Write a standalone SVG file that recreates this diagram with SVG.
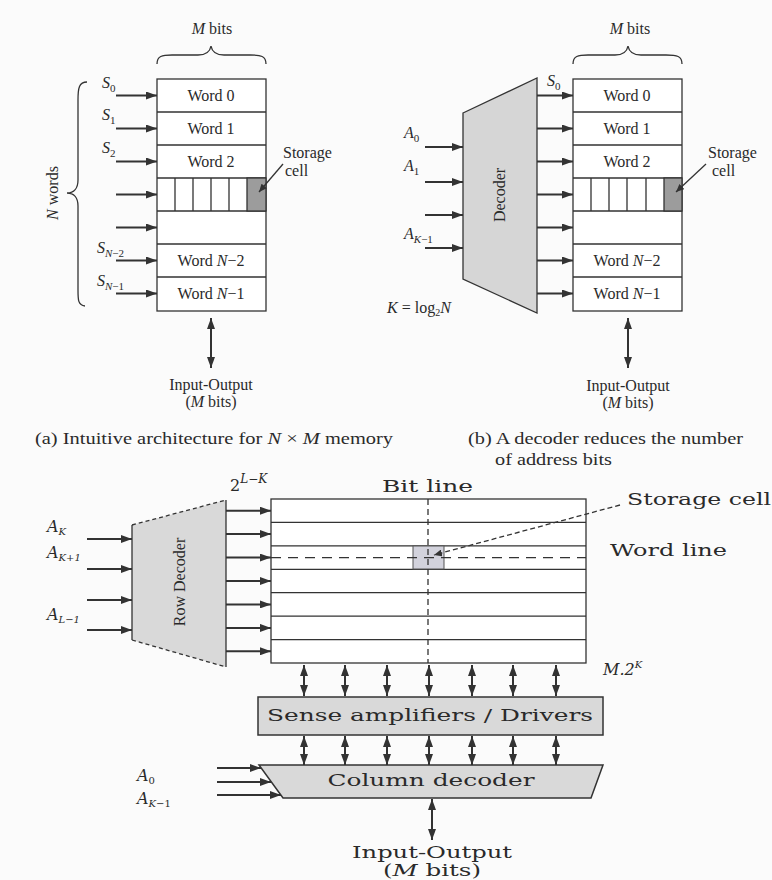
<svg xmlns="http://www.w3.org/2000/svg" width="772" height="880" viewBox="0 0 772 880">
<defs>
<marker id="ah" markerUnits="userSpaceOnUse" markerWidth="11" markerHeight="8" refX="11" refY="4" orient="auto-start-reverse">
<path d="M0,0 L11,4 L0,8 z" fill="#333"/>
</marker>
<marker id="ahs" markerUnits="userSpaceOnUse" markerWidth="8" markerHeight="7" refX="8" refY="3.5" orient="auto-start-reverse">
<path d="M0,0 L8,3.5 L0,7 z" fill="#333"/>
</marker>
<style>
.ln{stroke:#333;stroke-width:1.3;fill:none}
.box{stroke:#333;stroke-width:1.3;fill:#fff}
.arr{stroke:#333;stroke-width:2;fill:none;marker-end:url(#ah)}
.darr{stroke:#333;stroke-width:2;fill:none;marker-start:url(#ah);marker-end:url(#ah)}
.t{font-family:"Liberation Serif",serif;font-size:16px;fill:#2a2a2a}
.tc{font-family:"Liberation Serif",serif;font-size:16px;fill:#2a2a2a;text-anchor:middle}
.w{font-family:"DejaVu Serif",serif;font-size:16px;fill:#2a2a2a}
.wc{font-family:"DejaVu Serif",serif;font-size:16px;fill:#2a2a2a;text-anchor:middle}
.i{font-style:italic}
.dec{fill:#d6d6d6;stroke:#333;stroke-width:1.3}
</style>
</defs>
<rect width="772" height="880" fill="#fbfbfb"/>

<!-- ===== (a) ===== -->
<g id="a-mbits">
<text class="tc" x="212" y="34" font-size="14"><tspan class="i">M</tspan> bits</text>
<path class="ln" d="M157,64 C157,56 162,55 172,55 L198,55 C206,55 210,52 211,46 C212,52 216,55 224,55 L250,55 C261,55 266,56 266,64"/>
</g>
<g id="a-nwords">
<path class="ln" d="M87,82 C79,82 78,88 78,100 L78,180 C78,188 74,193 67,193 C74,193 78,198 78,206 L78,290 C78,300 78,305 85,306"/>
<text class="tc" transform="translate(58,193) rotate(-90)"><tspan class="i">N</tspan> words</text>
</g>
<g id="a-memory">
<rect class="box" x="157" y="79" width="109" height="232"/>
<path class="ln" d="M157,112H266M157,145H266M157,178H266M157,211H266M157,244H266M157,277H266"/>
<rect x="247" y="178" width="19" height="33" fill="#9c9c9c" stroke="#333" stroke-width="1.3"/>
<path class="ln" d="M175,178V211M193,178V211M211,178V211M229,178V211"/>
<text class="tc" x="211" y="101">Word 0</text>
<text class="tc" x="211" y="134">Word 1</text>
<text class="tc" x="211" y="167">Word 2</text>
<text class="tc" x="211" y="266">Word <tspan class="i">N</tspan>−2</text>
<text class="tc" x="211" y="299">Word <tspan class="i">N</tspan>−1</text>
</g>
<g id="a-selects">
<text class="t" x="102" y="88" font-size="15"><tspan class="i">S</tspan><tspan font-size="11" dy="4">0</tspan></text>
<text class="t" x="102" y="120" font-size="15"><tspan class="i">S</tspan><tspan font-size="11" dy="4">1</tspan></text>
<text class="t" x="102" y="153" font-size="15"><tspan class="i">S</tspan><tspan font-size="11" dy="4">2</tspan></text>
<text class="t" x="97" y="253" font-size="15"><tspan class="i">S</tspan><tspan font-size="11" dy="4"><tspan class="i">N</tspan>−2</tspan></text>
<text class="t" x="97" y="286" font-size="15"><tspan class="i">S</tspan><tspan font-size="11" dy="4"><tspan class="i">N</tspan>−1</tspan></text>
</g>
<g id="a-storage">
<text class="t" x="283" y="158">Storage</text>
<text class="t" x="285" y="176">cell</text>
</g>
<g id="a-io">
<text class="tc" x="211" y="390" font-size="15">Input-Output</text>
<text class="tc" x="211" y="407" font-size="15">(<tspan class="i">M</tspan> bits)</text>
</g>
<g id="a-caption">
<text class="t" x="35" y="444" textLength="358" lengthAdjust="spacingAndGlyphs">(a) Intuitive architecture for <tspan class="i">N</tspan> × <tspan class="i">M</tspan> memory</text>
</g>

<!-- ===== (b) ===== -->
<g id="b-mbits">
<text class="tc" x="630" y="34" font-size="14"><tspan class="i">M</tspan> bits</text>
<path class="ln" d="M573,64 C573,56 578,55 588,55 L615,55 C623,55 627,52 628,46 C629,52 633,55 641,55 L666,55 C677,55 682,56 682,64"/>
</g>
<g id="b-decoder">
<polygon class="dec" points="463,113 537,78 537,313 463,279"/>
<text class="tc" transform="translate(505,195) rotate(-90)">Decoder</text>
</g>
<g id="b-memory">
<rect class="box" x="573" y="79" width="109" height="232"/>
<path class="ln" d="M573,112H682M573,145H682M573,178H682M573,211H682M573,244H682M573,277H682"/>
<rect x="664" y="178" width="18" height="33" fill="#9c9c9c" stroke="#333" stroke-width="1.3"/>
<path class="ln" d="M591,178V211M609,178V211M627,178V211M646,178V211"/>
<text class="tc" x="627" y="101">Word 0</text>
<text class="tc" x="627" y="134">Word 1</text>
<text class="tc" x="627" y="167">Word 2</text>
<text class="tc" x="627" y="266">Word <tspan class="i">N</tspan>−2</text>
<text class="tc" x="627" y="299">Word <tspan class="i">N</tspan>−1</text>
</g>
<g id="b-labels">
<text class="t" x="547" y="86" font-size="15"><tspan class="i">S</tspan><tspan font-size="11" dy="4">0</tspan></text>
<text class="t" x="404" y="138" font-size="15"><tspan class="i">A</tspan><tspan font-size="11" dy="4">0</tspan></text>
<text class="t" x="404" y="171" font-size="15"><tspan class="i">A</tspan><tspan font-size="11" dy="4">1</tspan></text>
<text class="t" x="404" y="239" font-size="15"><tspan class="i">A</tspan><tspan font-size="11" dy="4"><tspan class="i">K</tspan>−1</tspan></text>
<text class="t" x="387" y="313" font-size="15"><tspan class="i">K</tspan> = log<tspan font-size="10" dy="3">2</tspan><tspan class="i" dy="-3">N</tspan></text>
</g>
<g id="b-storage">
<text class="t" x="708" y="158">Storage</text>
<text class="t" x="712" y="176">cell</text>
</g>
<g id="b-io">
<text class="tc" x="628" y="391" font-size="15">Input-Output</text>
<text class="tc" x="628" y="408" font-size="15">(<tspan class="i">M</tspan> bits)</text>
</g>
<g id="b-caption">
<text class="t" x="468" y="444" textLength="275" lengthAdjust="spacingAndGlyphs">(b) A decoder reduces the number</text>
<text class="t" x="495" y="465" textLength="117" lengthAdjust="spacingAndGlyphs">of address bits</text>
</g>

<!-- ===== (c) ===== -->
<g id="c-rowdecoder">
<polygon points="132,525 226,500 226,667 132,640" fill="#d9d9d9" stroke="none"/>
<path class="ln" d="M132,525V640M226,500V667"/>
<path class="ln" d="M132,525L226,500M132,640L226,667" stroke-dasharray="4,3"/>
<text class="tc" transform="translate(185,582) rotate(-90)" font-size="17">Row Decoder</text>
</g>
<g id="c-2lk">
<text class="w" x="230" y="491" font-size="17">2<tspan class="i" font-size="12" dy="-8">L</tspan><tspan font-size="12">−</tspan><tspan class="i" font-size="12">K</tspan></text>
</g>
<g id="c-array">
<rect class="box" x="271" y="499" width="315" height="164" stroke-width="1.6"/>
<path class="ln" stroke-width="1.6" d="M271,522.4H586M271,545.9H586M271,569.3H586M271,592.7H586M271,616.1H586M271,639.6H586"/>
<rect x="413" y="546" width="31" height="23" fill="#d2d2dc" stroke="#555" stroke-width="1"/>
<path class="ln" stroke-width="1.6" d="M428,499V663" stroke-dasharray="6,4"/>
<path class="ln" stroke="#666" d="M271,557.6H586" stroke-dasharray="10,7"/>
</g>
<g id="c-labels">
<text class="w" x="382" y="492" textLength="91" lengthAdjust="spacingAndGlyphs">Bit line</text>
<text class="w" x="627" y="505" font-size="17" textLength="144" lengthAdjust="spacingAndGlyphs">Storage cell</text>
<text class="w" x="610" y="556" font-size="17" textLength="117" lengthAdjust="spacingAndGlyphs">Word line</text>
<text class="w i" x="603" y="675" font-size="15">M.2<tspan font-size="10" dy="-7">K</tspan></text>
<text class="w i" x="47" y="532" font-size="15">A<tspan font-size="10" dy="3">K</tspan></text>
<text class="w i" x="47" y="558" font-size="15">A<tspan font-size="10" dy="3">K+1</tspan></text>
<text class="w i" x="47" y="620" font-size="15">A<tspan font-size="10" dy="3">L−1</tspan></text>
</g>
<g id="c-sense">
<rect x="258" y="697" width="345" height="38" fill="#d9d9d9" stroke="#333" stroke-width="1.5"/>
<text class="wc" x="430" y="721" textLength="326" lengthAdjust="spacingAndGlyphs">Sense amplifiers / Drivers</text>
</g>
<g id="c-coldecoder">
<polygon points="259,765 603,765 591,798 283,798" fill="#d9d9d9" stroke="#333" stroke-width="1.5"/>
<text class="wc" x="431" y="786" textLength="207" lengthAdjust="spacingAndGlyphs">Column decoder</text>
<text class="w i" x="137" y="781" font-size="15">A<tspan font-size="10" dy="3" font-style="normal">0</tspan></text>
<text class="w i" x="137" y="804" font-size="15">A<tspan font-size="10" dy="3">K</tspan><tspan font-size="10" font-style="normal">−1</tspan></text>
</g>
<g id="c-io">
<text class="wc" x="432" y="858" font-size="17" textLength="160" lengthAdjust="spacingAndGlyphs">Input-Output</text>
<text class="wc" x="432" y="876" font-size="17" textLength="98" lengthAdjust="spacingAndGlyphs">(<tspan class="i">M</tspan> bits)</text>
</g>

<!-- ===== connectors ===== -->
<g id="connectors">
<path class="arr" d="M116,95.5H157"/>
<path class="arr" d="M116,128.5H157"/>
<path class="arr" d="M116,161.5H157"/>
<path class="arr" d="M116,194.5H157"/>
<path class="arr" d="M116,227.5H157"/>
<path class="arr" d="M116,260.5H157"/>
<path class="arr" d="M116,293.5H157"/>
<path class="ln" d="M283,164L259,192" marker-end="url(#ahs)" stroke-width="1"/>
<path class="darr" d="M211,318V368"/>
<path class="arr" d="M537,95.5H573"/>
<path class="arr" d="M537,128.5H573"/>
<path class="arr" d="M537,161.5H573"/>
<path class="arr" d="M537,194.5H573"/>
<path class="arr" d="M537,227.5H573"/>
<path class="arr" d="M537,260.5H573"/>
<path class="arr" d="M537,293.5H573"/>
<path class="arr" d="M425,147H463"/>
<path class="arr" d="M425,182H463"/>
<path class="arr" d="M425,215H463"/>
<path class="arr" d="M425,248H463"/>
<path class="ln" d="M706,164L676,192" marker-end="url(#ahs)" stroke-width="1"/>
<path class="darr" d="M628,318V368"/>
<path class="arr" d="M87,539H132"/>
<path class="arr" d="M87,569H132"/>
<path class="arr" d="M87,600H132"/>
<path class="arr" d="M87,630H132"/>
<path class="arr" d="M226,510.7H271"/>
<path class="arr" d="M226,534.1H271"/>
<path class="arr" d="M226,557.6H271"/>
<path class="arr" d="M226,581H271"/>
<path class="arr" d="M226,604.4H271"/>
<path class="arr" d="M226,627.9H271"/>
<path class="arr" d="M226,651.3H271"/>
<path class="ln" d="M620,505L434,555" stroke-dasharray="5,3" stroke-width="1.3" marker-end="url(#ahs)"/>
<path class="darr" d="M304,665V696"/>
<path class="darr" d="M345,665V696"/>
<path class="darr" d="M387,665V696"/>
<path class="darr" d="M429,665V696"/>
<path class="darr" d="M472,665V696"/>
<path class="darr" d="M513,665V696"/>
<path class="darr" d="M556,665V696"/>
<path class="darr" d="M304,736V765"/>
<path class="darr" d="M345,736V765"/>
<path class="darr" d="M387,736V765"/>
<path class="darr" d="M429,736V765"/>
<path class="darr" d="M472,736V765"/>
<path class="darr" d="M513,736V765"/>
<path class="darr" d="M556,736V765"/>
<path class="arr" d="M217,768H261"/>
<path class="arr" d="M217,782H271"/>
<path class="arr" d="M217,795H281"/>
<path class="darr" d="M432,799V840"/>
</g>
</svg>
